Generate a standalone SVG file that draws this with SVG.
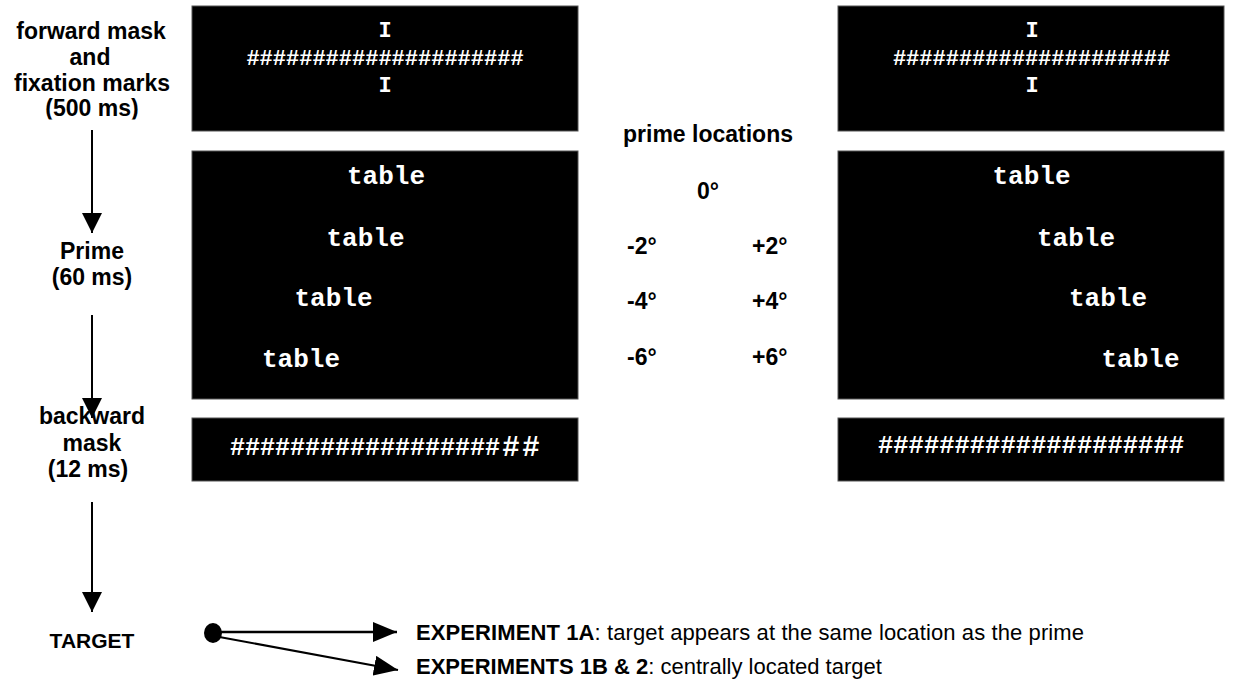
<svg xmlns="http://www.w3.org/2000/svg" width="1236" height="679" viewBox="0 0 1236 679">
<style>
.bg{fill:#fff}
.box{fill:#000;stroke:#555;stroke-width:1}
.mono{font-family:"Liberation Mono","Courier New",monospace;font-weight:bold;fill:#fff}
.lbl{font-family:"Liberation Sans",Arial,sans-serif;font-weight:bold;font-size:23px;fill:#000;text-anchor:middle}
.loc{font-family:"Liberation Sans",Arial,sans-serif;font-weight:bold;font-size:23px;fill:#000}
.exp{font-family:"Liberation Sans",Arial,sans-serif;font-size:22px;fill:#000}
.b{font-weight:bold}
.conn{stroke:#000;stroke-width:2;fill:none}
</style>
<defs>
<marker id="ahV" viewBox="0 0 20 20" refX="20" refY="10" markerWidth="20" markerHeight="20" markerUnits="userSpaceOnUse" orient="auto">
<path d="M0,0 L20,10 L0,20 z" fill="#000"/>
</marker>
<marker id="ahH" viewBox="0 0 24 20" refX="24" refY="10" markerWidth="24" markerHeight="20" markerUnits="userSpaceOnUse" orient="auto">
<path d="M0,0 L24,10 L0,20 z" fill="#000"/>
</marker>
<clipPath id="clipTop"><rect x="0" y="0" width="190" height="119.5"/></clipPath>
</defs>
<rect class="bg" x="0" y="0" width="1236" height="679"/>

<g id="label-forward" clip-path="url(#clipTop)">
<text class="lbl" x="91" y="39">forward mask</text>
<text class="lbl" x="90" y="65">and</text>
<text class="lbl" x="92" y="91">fixation marks</text>
<text class="lbl" x="92" y="116">(500 ms)</text>
</g>
<g id="label-prime">
<text class="lbl" x="92" y="259">Prime</text>
<text class="lbl" x="92" y="285">(60 ms)</text>
</g>
<g id="label-backward">
<text class="lbl" x="92" y="424">backward</text>
<text class="lbl" x="92" y="451">mask</text>
<text class="lbl" x="88" y="477">(12 ms)</text>
</g>
<g id="label-target">
<text class="lbl" x="92" y="648" style="font-size:21px">TARGET</text>
</g>

<g id="box-forward-left">
<rect class="box" x="192" y="6" width="386" height="125"/>
<text class="mono" x="385" y="37" font-size="22" text-anchor="middle">I</text>
<text class="mono" x="385" y="65" font-size="22" text-anchor="middle">#####################</text>
<text class="mono" x="385" y="92" font-size="22" text-anchor="middle">I</text>
</g>
<g id="box-prime-left">
<rect class="box" x="192" y="151" width="386" height="248"/>
<text class="mono" x="386" y="184" font-size="26" text-anchor="middle">table</text>
<text class="mono" x="365.5" y="246" font-size="26" text-anchor="middle">table</text>
<text class="mono" x="333.5" y="306" font-size="26" text-anchor="middle">table</text>
<text class="mono" x="301" y="367" font-size="26" text-anchor="middle">table</text>
</g>
<g id="box-backward-left">
<rect class="box" x="192" y="418" width="386" height="63"/>
<text class="mono" x="230" y="455" font-size="25" textLength="270" lengthAdjust="spacing">##################</text>
<text class="mono" x="511" y="456" font-size="29" text-anchor="middle">#</text>
<text class="mono" x="531" y="456" font-size="29" text-anchor="middle">#</text>
</g>

<g id="prime-locations">
<text class="loc" x="708" y="142" text-anchor="middle">prime locations</text>
<text class="loc" x="708" y="199" text-anchor="middle">0°</text>
<text class="loc" x="627" y="254">-2°</text>
<text class="loc" x="752" y="254">+2°</text>
<text class="loc" x="627" y="309">-4°</text>
<text class="loc" x="752" y="309">+4°</text>
<text class="loc" x="627" y="365">-6°</text>
<text class="loc" x="752" y="365">+6°</text>
</g>

<g id="box-forward-right">
<rect class="box" x="838" y="6" width="386" height="125"/>
<text class="mono" x="1032" y="37" font-size="22" text-anchor="middle">I</text>
<text class="mono" x="1031.5" y="65" font-size="22" text-anchor="middle">#####################</text>
<text class="mono" x="1032" y="92" font-size="22" text-anchor="middle">I</text>
</g>
<g id="box-prime-right">
<rect class="box" x="838" y="151" width="386" height="248"/>
<text class="mono" x="1031.5" y="184" font-size="26" text-anchor="middle">table</text>
<text class="mono" x="1076" y="246" font-size="26" text-anchor="middle">table</text>
<text class="mono" x="1108" y="306" font-size="26" text-anchor="middle">table</text>
<text class="mono" x="1140.5" y="367" font-size="26" text-anchor="middle">table</text>
</g>
<g id="box-backward-right">
<rect class="box" x="838" y="418" width="386" height="63"/>
<text class="mono" x="1031" y="453" font-size="25.5" text-anchor="middle">####################</text>
</g>

<g id="exp1a">
<text class="exp" x="416" y="640" textLength="668" lengthAdjust="spacing"><tspan class="b">EXPERIMENT 1A</tspan>: target appears at the same location as the prime</text>
</g>
<g id="exp1b">
<text class="exp" x="416" y="674"><tspan class="b">EXPERIMENTS 1B &amp; 2</tspan>: centrally located target</text>
</g>

<g id="connectors">
<line class="conn" x1="92" y1="130" x2="92" y2="233" marker-end="url(#ahV)"/>
<line class="conn" x1="92" y1="315" x2="92" y2="418" marker-end="url(#ahV)"/>
<line class="conn" x1="92" y1="502" x2="92" y2="612" marker-end="url(#ahV)"/>
<ellipse cx="213" cy="633" rx="9" ry="10" fill="#000"/>
<line x1="215" y1="632" x2="397" y2="632" stroke="#000" stroke-width="2.5" marker-end="url(#ahH)"/>
<line class="conn" x1="214" y1="636" x2="398" y2="670" marker-end="url(#ahH)"/>
</g>
</svg>
